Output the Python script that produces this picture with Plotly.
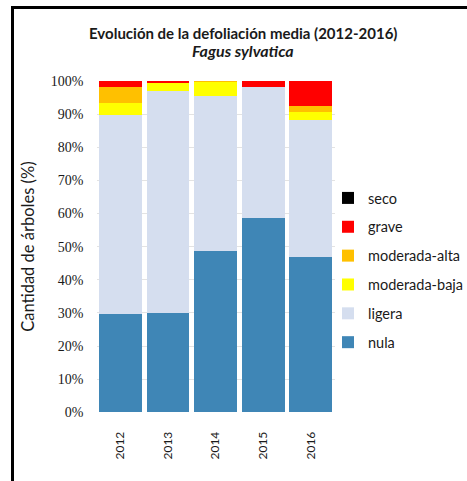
import plotly.graph_objects as go

years = ["2012", "2013", "2014", "2015", "2016"]
nula = [29.8, 30.1, 48.7, 58.6, 47.0]
ligera = [60.0, 66.8, 46.7, 39.6, 41.2]
moderada_baja = [3.6, 2.5, 4.4, 0.0, 2.4]
moderada_alta = [4.8, 0.0, 0.2, 0.0, 1.8]
grave = [1.8, 0.6, 0.0, 1.8, 7.6]
seco = [0.0, 0.0, 0.0, 0.0, 0.0]

series = [
    ("nula", nula, "#3F86B6"),
    ("ligera", ligera, "#D5DEEF"),
    ("moderada-baja", moderada_baja, "#FFFF00"),
    ("moderada-alta", moderada_alta, "#FFC000"),
    ("grave", grave, "#FF0000"),
    ("seco", seco, "#000000"),
]

fig = go.Figure()
n = len(series)
for i, (name, vals, col) in enumerate(series):
    fig.add_trace(go.Bar(
        x=years, y=[v / 100 for v in vals], name=name,
        marker=dict(color=col, line=dict(width=0)),
        legendgroup=name, legendrank=n - i,
    ))

W, H = 467, 481
fig.update_layout(
    width=W, height=H,
    barmode="stack", bargap=0.1,
    margin=dict(l=0, r=0, t=0, b=0, autoexpand=False),
    paper_bgcolor="white", plot_bgcolor="white",
    font=dict(family="Lato", size=13, color="#1a1a1a"),
    xaxis=dict(
        domain=[96.5 / W, 334.6 / W], automargin=False,
        tickangle=-90, tickfont=dict(family="Lato", size=12),
        showgrid=False, showline=False, ticks="",
        ticklabelstandoff=16,
    ),
    yaxis=dict(
        domain=[(H - 412.3) / H, (H - 81) / H], automargin=False,
        range=[0, 1], tickformat=".0%", dtick=0.1,
        tickfont=dict(family="Liberation Serif", size=14),
        showgrid=True, gridcolor="#E3E3E3", gridwidth=1,
        zeroline=False, showline=False, ticks="",
        ticklabelstandoff=12,
        title=dict(text="Cantidad de árboles (%)", font=dict(family="Lato", size=16.5), standoff=12),
    ),
    legend=dict(
        traceorder="grouped", tracegroupgap=7,
        x=328 / W, xanchor="left", y=(H - 182) / H, yanchor="top",
        font=dict(family="Lato", size=14.5),
        itemwidth=30, bgcolor="rgba(0,0,0,0)",
    ),
    annotations=[
        dict(text="<b>Evolución de la defoliación media (2012-2016)</b>", x=243 / W, y=(H - 33) / H,
             xref="paper", yref="paper", xanchor="center", yanchor="middle", showarrow=False,
             font=dict(family="Lato", size=15)),
        dict(text="<b><i>Fagus sylvatica</i></b>", x=243 / W, y=(H - 51) / H,
             xref="paper", yref="paper", xanchor="center", yanchor="middle", showarrow=False,
             font=dict(family="Lato", size=16)),
    ],
    shapes=[
        dict(type="line", xref="paper", yref="paper", x0=12.5 / W, x1=12.5 / W, y0=-0.01, y1=(H - 6) / H,
             line=dict(color="black", width=3)),
        dict(type="line", xref="paper", yref="paper", x0=11 / W, x1=1.01, y0=(H - 7.5) / H, y1=(H - 7.5) / H,
             line=dict(color="black", width=3)),
    ],
)

fig.write_html("out.html", config={"displayModeBar": False},
               post_script="document.body.style.margin='0';document.body.style.padding='0';")
